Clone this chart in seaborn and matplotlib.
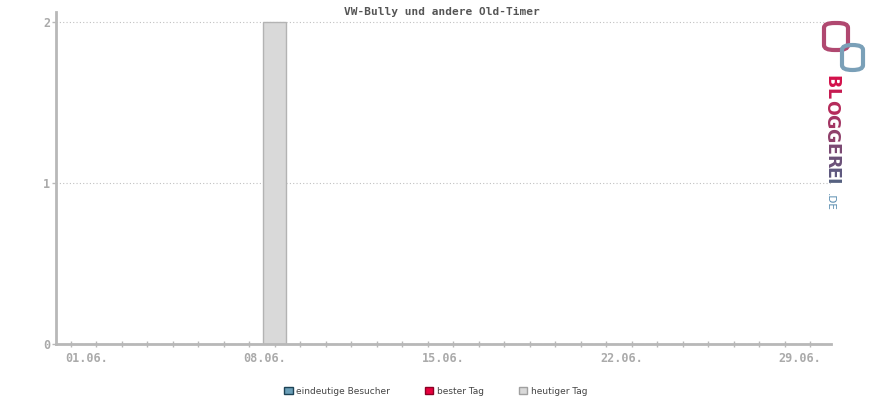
import numpy as np
import pandas as pd
import matplotlib
matplotlib.use("Agg")
import matplotlib.pyplot as plt
import seaborn as sns
from matplotlib.patches import Patch, FancyBboxPatch
from matplotlib.transforms import ScaledTranslation

# data
title = "VW-Bully und andere Old-Timer"
days = ["%02d.06." % d for d in range(1, 31)]
visits = [0, 0, 0, 0, 0, 0, 0, 0, 2, 0, 0, 0, 0, 0, 0,
          0, 0, 0, 0, 0, 0, 0, 0, 0, 0, 0, 0, 0, 0, 0]
label_days = ["01.06.", "08.06.", "15.06.", "22.06.", "29.06."]
y_ticks = [0, 1, 2]
legend_labels = ["eindeutige Besucher", "bester Tag", "heutiger Tag"]
legend_colors = ["#6b9fb8", "#e8003d", "#d9d9d9"]
legend_edges = ["#1d4356", "#8a0024", "#a0a0a0"]

sns.set_style("ticks")
plt.rcParams["font.family"] = ["DejaVu Sans Mono", "DejaVu Sans"]

df = pd.DataFrame({"tag": days, "besucher": visits})

fig = plt.figure(figsize=(8.7, 4), dpi=100)
ax = fig.add_axes([56 / 870, 56 / 400, (830.7 - 56) / 870, (344 - 12) / 400])

sns.barplot(data=df, x="tag", y="besucher", order=days, color="#d9d9d9",
            edgecolor="#b3b3b3", linewidth=1, width=0.9, saturation=1, ax=ax)

ax.set_xlim(-0.58, 29.8)
ax.set_ylim(0, 2.062)
ax.set_xlabel("")
ax.set_ylabel("")

# grid
for y in [1, 2]:
    ax.axhline(y, color="#c0c0c0", lw=0.8, ls=(0, (1, 2)), zorder=0)

ax.set_xticks(range(len(days)))
ax.set_xticklabels([d if d in label_days else "" for d in days])
ax.set_yticks(y_ticks)
ax.tick_params(axis="x", direction="inout", length=5, width=1, color="#b8b8b8",
               labelsize=8.5, labelcolor="#aaaaaa", pad=3)
ax.tick_params(axis="y", direction="out", length=3, width=1, color="#b8b8b8",
               labelsize=8.5, labelcolor="#aaaaaa", pad=1)
off = ScaledTranslation(-0.06, 0, fig.dpi_scale_trans)
for lbl in ax.get_xticklabels():
    lbl.set_ha("left")
    lbl.set_transform(lbl.get_transform() + off)
for lbl in ax.get_xticklabels() + ax.get_yticklabels():
    lbl.set_fontweight("bold")

for s in ["top", "right"]:
    ax.spines[s].set_visible(False)
for s in ["left", "bottom"]:
    ax.spines[s].set_color("#b8b8b8")
    ax.spines[s].set_linewidth(2)

fig.text(442 / 870, 1 - 12 / 400, title, ha="center", va="center",
         fontsize=8, color="#555555", fontweight="bold")

# legend
handles = [Patch(facecolor=c, edgecolor=e, linewidth=1)
           for c, e in zip(legend_colors, legend_edges)]
leg = fig.legend(handles, legend_labels, loc="center", ncol=3,
                 bbox_to_anchor=(436 / 870, 1 - 391 / 400), frameon=False,
                 prop={"family": "DejaVu Sans", "size": 6.5},
                 handlelength=0.9, handleheight=0.9, handletextpad=0.4,
                 columnspacing=3.9)
for t in leg.get_texts():
    t.set_color("#444444")

# logo
fig.patches.append(FancyBboxPatch((824 / 870, 1 - 50 / 400), 24 / 870, 27 / 400,
                                  boxstyle="round,pad=0,rounding_size=0.012",
                                  transform=fig.transFigure, fill=False,
                                  edgecolor="#b04870", linewidth=3))
fig.patches.append(FancyBboxPatch((842 / 870, 1 - 70 / 400), 21 / 870, 25 / 400,
                                  boxstyle="round,pad=0,rounding_size=0.012",
                                  transform=fig.transFigure, fill=False,
                                  edgecolor="#7aa0b8", linewidth=3))
letters = "BLOGGEREI"
cols = ["#d3104a", "#c61a50", "#b52a5a", "#a23462", "#8e3f6a",
        "#7a4872", "#6a5078", "#5e587e", "#556080"]
steps = [13, 12, 14, 14, 14, 13, 13, 10, 6]
y = 75
for ch, c, st in zip(letters, cols, steps):
    fig.text(831 / 870, 1 - (y + st / 2) / 400, ch, rotation=270,
             ha="center", va="center", fontsize=12.5, fontweight="bold",
             color=c, family="DejaVu Sans")
    y += st
fig.text(830 / 870, 1 - 202 / 400, ".DE", rotation=270, ha="center", va="center",
         fontsize=7.5, color="#5a8db0", family="DejaVu Sans")

fig.savefig("out.png", dpi=100)
